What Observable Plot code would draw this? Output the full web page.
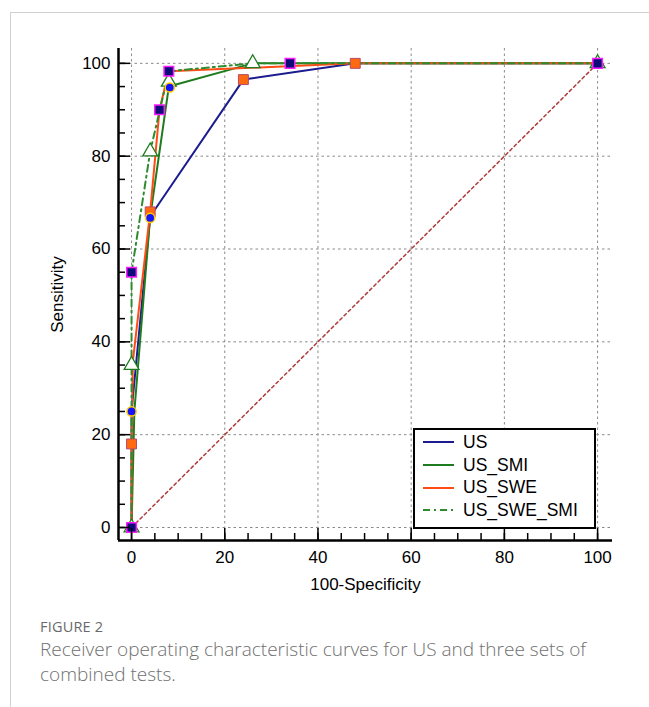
<!DOCTYPE html>
<html>
<head>
<meta charset="utf-8">
<script src="https://cdn.jsdelivr.net/npm/d3@7"></script>
<script src="https://cdn.jsdelivr.net/npm/@observablehq/plot@0.6"></script>
<style>
  html, body { margin: 0; padding: 0; background: #fff; }
  body { width: 649px; height: 707px; overflow: hidden; position: relative; font-family: "Liberation Sans", Arial, sans-serif; }
  #border { position: absolute; left: 10px; top: 12px; right: -2px; bottom: -2px; border-left: 1px solid #d2d2d2; border-top: 1px solid #d2d2d2; }
  #chart { position: absolute; left: 0; top: 0; }
  #legend { position: absolute; left: 413px; top: 428px; width: 179px; height: 96px; border: 2px solid #000; background: #fff; padding-top: 1px; box-sizing: content-box; }
  .row { height: 22.7px; display: flex; align-items: center; font-size: 17.5px; color: #000; }
  .row svg { margin-left: 8px; margin-right: 9px; }
  #fig { position: absolute; left: 40px; top: 617px; font-family: "Open Sans", sans-serif; font-size: 14.5px; color: #6a6a6a; letter-spacing: 0.2px; }
  #cap { position: absolute; left: 40px; top: 637px; font-family: "Open Sans", sans-serif; font-size: 19px; line-height: 25px; color: #707070; white-space: nowrap; font-weight: 300; }
</style>
</head>
<body>
<div id="border"></div>
<div id="chart"></div>
<div id="legend"></div>
<div id="fig">FIGURE 2</div>
<div id="cap">Receiver operating characteristic curves for US and three sets of<br>combined tests.</div>
<script>
// ---- data ----
const seriesNames = ["US", "US_SMI", "US_SWE", "US_SWE_SMI"];
const seriesColors = ["#1c1c8f", "#1e7b1e", "#ff4c14", "#2e8b2e"];
const seriesDash = [null, null, null, "7,4,2,4"];

const usX = [0, 0, 4, 24, 48, 100];
const usY = [0, 25, 67, 96.5, 100, 100];
const smiX = [0, 0.6, 4, 8, 26, 100];
const smiY = [0, 25, 67, 95, 100, 100];
const sweX = [0, 0, 0.3, 4, 6, 8, 48, 100];
const sweY = [0, 18, 36, 68, 90, 98.3, 100, 100];
const sweSmiX = [0, 0, 4, 8, 26, 100];
const sweSmiY = [0, 55, 81, 98.3, 100, 100];

// markers
const navySqX = [0, 0, 6, 8, 34, 100];
const navySqY = [0, 55, 90, 98.3, 100, 100];
const orangeSqX = [0, 4, 24, 48];
const orangeSqY = [18, 68, 96.5, 100];
const blueCircX = [0, 4, 8.2];
const blueCircY = [25, 66.7, 94.8];
const triX = [0, 0, 4, 8, 26, 100];
const triY = [0, 35, 81, 96, 100, 100];

const diagX = [0, 100];
const diagY = [0, 100];

const xMajor = [0, 20, 40, 60, 80, 100];
const yMajor = [0, 20, 40, 60, 80, 100];
const minorTicks = [0, 5, 10, 15, 20, 25, 30, 35, 40, 45, 50, 55, 60, 65, 70, 75, 80, 85, 90, 95, 100];
const domainLo = -2.8, domainHi = 103.2;

// ---- build ----
const pts = (xs, ys) => xs.map((x, i) => ({x, y: ys[i]}));
const lineData = [pts(usX, usY), pts(smiX, smiY), pts(sweX, sweY), pts(sweSmiX, sweSmiY)];

const marks = [
  Plot.gridX(xMajor, {stroke: "#8a8a8a", strokeOpacity: 1, strokeDasharray: "2.5,3", strokeWidth: 1}),
  Plot.gridY(yMajor, {stroke: "#8a8a8a", strokeOpacity: 1, strokeDasharray: "2.5,3", strokeWidth: 1}),
  Plot.line(pts(diagX, diagY), {x: "x", y: "y", stroke: "#b03a3a", strokeWidth: 1.5, strokeDasharray: "3,3"}),
];
lineData.forEach((d, i) => {
  marks.push(Plot.line(d, {x: "x", y: "y", stroke: seriesColors[i], strokeWidth: 2, strokeDasharray: seriesDash[i]}));
});
marks.push(
  Plot.dot(pts(triX, triY), {x: "x", y: "y", symbol: "triangle", r: 5.5, fill: "#fff", stroke: "#1e7b1e", strokeWidth: 1.3}),
  Plot.dot(pts(orangeSqX, orangeSqY), {x: "x", y: "y", symbol: "square", r: 5.6, fill: "#ff6a10", stroke: "#b84a6a", strokeWidth: 1}),
  Plot.dot(pts(blueCircX, blueCircY), {x: "x", y: "y", symbol: "circle", r: 4.6, fill: "#1414ff", stroke: "#ffcc00", strokeWidth: 1.5}),
  Plot.dot(pts(navySqX, navySqY), {x: "x", y: "y", symbol: "square", r: 5.4, fill: "#0c0c78", stroke: "#ff1aff", strokeWidth: 1.5}),
  // axis lines
  Plot.ruleX([domainLo], {stroke: "#000", strokeWidth: 2.5}),
  Plot.ruleY([domainLo], {stroke: "#000", strokeWidth: 2.5}),
  // ticks (inward)
  Plot.axisY(minorTicks, {tickSize: -7, tickFormat: () => "", strokeWidth: 1.5, label: null}),
  Plot.axisY(yMajor, {tickSize: -12, tickFormat: () => "", strokeWidth: 1.5, label: null}),
  Plot.axisX(minorTicks, {tickSize: -7, tickFormat: () => "", strokeWidth: 1.5, label: null}),
  Plot.axisX(xMajor, {tickSize: -12, tickFormat: () => "", strokeWidth: 1.5, label: null}),
  // labels
  Plot.axisY(yMajor, {tickSize: 0, tickPadding: 8, fontSize: 17, label: "Sensitivity", labelAnchor: "center", labelArrow: "none", labelOffset: 68}),
  Plot.axisX(xMajor, {tickSize: 0, tickPadding: 10, fontSize: 17, label: "100-Specificity", labelAnchor: "center", labelArrow: "none", labelOffset: 49})
);

const chart = Plot.plot({
  width: 649,
  height: 600,
  marginLeft: 118,
  marginRight: 37,
  marginTop: 48,
  marginBottom: 60,
  x: {domain: [domainLo, domainHi]},
  y: {domain: [domainLo, domainHi]},
  style: {fontFamily: "'Liberation Sans', Arial, sans-serif", fontSize: "16.5px", color: "#000", background: "transparent", overflow: "visible"},
  marks
});
document.getElementById("chart").appendChild(chart);

// legend
const legend = document.getElementById("legend");
seriesNames.forEach((name, i) => {
  const row = document.createElement("div");
  row.className = "row";
  const ns = "http://www.w3.org/2000/svg";
  const s = document.createElementNS(ns, "svg");
  s.setAttribute("width", 31); s.setAttribute("height", 6);
  const l = document.createElementNS(ns, "line");
  l.setAttribute("x1", 0); l.setAttribute("x2", 31); l.setAttribute("y1", 3); l.setAttribute("y2", 3);
  l.setAttribute("stroke", seriesColors[i]); l.setAttribute("stroke-width", 2);
  if (seriesDash[i]) l.setAttribute("stroke-dasharray", seriesDash[i]);
  s.appendChild(l);
  row.appendChild(s);
  const t = document.createElement("span");
  t.textContent = name;
  row.appendChild(t);
  legend.appendChild(row);
});
</script>
</body>
</html>
